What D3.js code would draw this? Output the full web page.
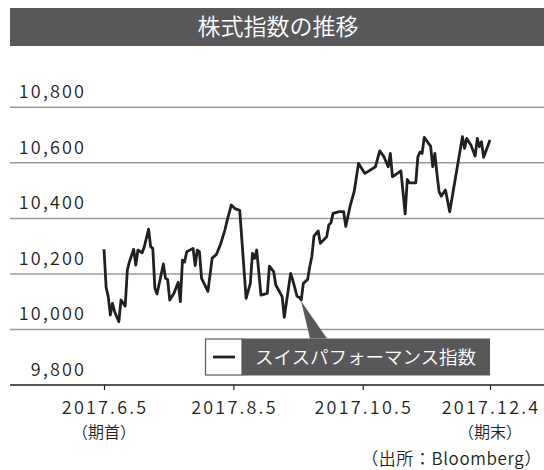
<!DOCTYPE html>
<html><head><meta charset="utf-8">
<script src="https://cdn.jsdelivr.net/npm/d3@7"></script>
<style>
html,body{margin:0;padding:0;background:#fff;}
svg{display:block;}
text{font-family:"Noto Sans CJK JP","Noto Sans",sans-serif;font-weight:350;}
</style></head>
<body>
<script>
const title = "株式指数の推移";
const seriesName = "スイスパフォーマンス指数";
const source = "（出所：Bloomberg）";
const yTicks = [9800, 10000, 10200, 10400, 10600, 10800];
const xTickDates = ["2017-06-05", "2017-08-05", "2017-10-05", "2017-12-04"];
const xTickLabels = ["2017.6.5", "2017.8.5", "2017.10.5", "2017.12.4"];
const xTickSubLabels = ["（期首）", "", "", "（期末）"];
const dates = [
"2017-06-05","2017-06-06","2017-06-07","2017-06-08","2017-06-09","2017-06-10","2017-06-12","2017-06-13","2017-06-15","2017-06-16",
"2017-06-17","2017-06-19","2017-06-20","2017-06-21","2017-06-23","2017-06-24","2017-06-26","2017-06-27","2017-06-28","2017-06-29",
"2017-06-30","2017-07-03","2017-07-04","2017-07-05","2017-07-06","2017-07-08","2017-07-10","2017-07-11","2017-07-12","2017-07-13",
"2017-07-14","2017-07-17","2017-07-18","2017-07-19","2017-07-20","2017-07-21","2017-07-24","2017-07-26","2017-07-28","2017-07-30",
"2017-08-01","2017-08-02","2017-08-04","2017-08-06","2017-08-08","2017-08-11","2017-08-13","2017-08-14","2017-08-15","2017-08-16",
"2017-08-18","2017-08-21","2017-08-22","2017-08-24","2017-08-25","2017-08-28","2017-08-29","2017-09-01","2017-09-02","2017-09-04",
"2017-09-05","2017-09-06","2017-09-07","2017-09-09","2017-09-10","2017-09-11","2017-09-12","2017-09-14","2017-09-15","2017-09-18",
"2017-09-19","2017-09-20","2017-09-21","2017-09-24","2017-09-26","2017-09-27","2017-09-29","2017-10-01","2017-10-03","2017-10-06",
"2017-10-08","2017-10-11","2017-10-13","2017-10-15","2017-10-17","2017-10-18","2017-10-19","2017-10-21","2017-10-23","2017-10-25",
"2017-10-26","2017-10-27","2017-10-30","2017-10-31","2017-11-01","2017-11-02","2017-11-03","2017-11-05","2017-11-06","2017-11-07",
"2017-11-08","2017-11-09","2017-11-10","2017-11-11","2017-11-13","2017-11-15","2017-11-17","2017-11-21","2017-11-22","2017-11-23",
"2017-11-25","2017-11-27","2017-11-28","2017-11-29","2017-11-30","2017-12-01","2017-12-04"
];
const values = [
10289,10152,10118,10052,10094,10064,10028,10106,10084,10214,
10244,10289,10232,10286,10276,10298,10361,10298,10292,10148,
10128,10236,10184,10180,10106,10130,10170,10100,10250,10243,
10280,10292,10230,10286,10280,10184,10137,10257,10270,10308,
10358,10390,10448,10434,10429,10112,10166,10274,10256,10286,
10124,10130,10228,10208,10160,10118,10044,10202,10178,10120,
10116,10106,10166,10180,10226,10262,10336,10355,10310,10334,
10376,10384,10418,10424,10424,10371,10443,10498,10598,10562,
10571,10586,10643,10622,10586,10634,10550,10560,10571,10416,
10540,10528,10528,10622,10639,10634,10692,10670,10660,10586,
10634,10560,10496,10480,10502,10424,10514,10694,10652,10688,
10664,10624,10688,10658,10676,10620,10682
];

const W = 544, H = 470;
const parse = d3.utcParse("%Y-%m-%d");
const data = dates.map((d, i) => ({date: parse(d), value: values[i]}));

const svg = d3.select("body").append("svg").attr("width", W).attr("height", H);

// title bar
svg.append("rect").attr("x", 10).attr("y", 8).attr("width", W - 10).attr("height", 38).attr("fill", "#58585a");
svg.append("text").attr("x", 278).attr("y", 35).attr("text-anchor", "middle")
  .attr("fill", "#fff").attr("font-size", 23).attr("font-weight", 400).text(title);

const x = d3.scaleUtc().domain([parse(xTickDates[0]), parse(xTickDates[3])]).range([104, 490]);
const y = d3.scaleLinear().domain([9800, 10800]).range([385, 107.3]);

// gridlines
svg.append("g").selectAll("line").data(yTicks.filter(v => v > 9800)).join("line")
  .attr("x1", 10).attr("x2", W).attr("y1", d => y(d)).attr("y2", d => y(d))
  .attr("stroke", "#9a9a9a").attr("stroke-width", 1.5);

// y labels
const ls = 2.2;
svg.append("g").selectAll("text").data(yTicks).join("text")
  .attr("x", 84 + ls).attr("y", d => y(d) - 9).attr("text-anchor", "end")
  .attr("font-size", 18).attr("fill", "#231f20").attr("letter-spacing", ls)
  .text(d => d3.format(",")(d));

// x axis
const xAxis = d3.axisBottom(x).tickValues(xTickDates.map(parse)).tickSize(5).tickFormat("");
const gx = svg.append("g").attr("transform", `translate(0,${y(9800)})`).call(xAxis);
gx.select(".domain").remove();
gx.selectAll(".tick line").attr("stroke", "#231f20").attr("stroke-width", 1.2);
svg.append("line").attr("x1", 10).attr("x2", W).attr("y1", y(9800)).attr("y2", y(9800))
  .attr("stroke", "#231f20").attr("stroke-width", 1.5);

const xl = svg.append("g");
xTickDates.forEach((d, i) => {
  xl.append("text").attr("x", x(parse(d)) + ls / 2).attr("y", 414).attr("text-anchor", "middle")
    .attr("font-size", 18).attr("fill", "#231f20").attr("letter-spacing", ls).text(xTickLabels[i]);
  if (xTickSubLabels[i]) {
    xl.append("text").attr("x", x(parse(d))).attr("y", 438).attr("text-anchor", "middle")
      .attr("font-size", 16).attr("fill", "#231f20").text(xTickSubLabels[i]);
  }
});

// line
const line = d3.line().x(d => x(d.date)).y(d => y(d.value));
svg.append("path").datum(data).attr("d", line).attr("fill", "none")
  .attr("stroke", "#231f20").attr("stroke-width", 2.8).attr("stroke-linejoin", "round");

// legend
const lg = svg.append("g");
lg.append("path").attr("d", "M301,301 L310,338.5 L327,338.5 Z").attr("fill", "#58585a");
lg.append("rect").attr("x", 242).attr("y", 338.5).attr("width", 248).attr("height", 37).attr("fill", "#58585a");
lg.append("rect").attr("x", 205.5).attr("y", 339).attr("width", 36.5).attr("height", 36).attr("fill", "#fff")
  .attr("stroke", "#58585a").attr("stroke-width", 1.2);
lg.append("line").attr("x1", 213).attr("x2", 235).attr("y1", 357).attr("y2", 357)
  .attr("stroke", "#231f20").attr("stroke-width", 2.8);
lg.append("text").attr("x", 255).attr("y", 364).attr("font-size", 18.5).attr("font-weight", 400)
  .attr("fill", "#fff").text(seriesName);

// source
svg.append("text").attr("x", 542).attr("y", 465).attr("text-anchor", "end")
  .attr("font-size", 17).attr("fill", "#231f20").attr("letter-spacing", 0.6).text(source);
</script>
</body></html>
